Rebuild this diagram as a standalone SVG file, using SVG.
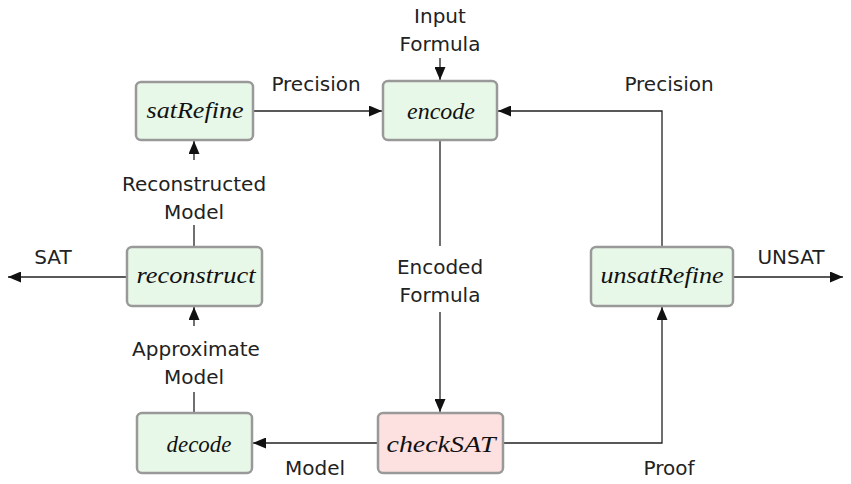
<svg xmlns="http://www.w3.org/2000/svg" width="851" height="484" viewBox="0 0 851 484">
<style>
.box{fill:#e8f8e8;stroke:#999;stroke-width:2.5}
.red{fill:#fde0e0}
.nt{font-family:"Liberation Serif",serif;font-style:italic;font-size:23px;fill:#111;text-anchor:middle}
.lb{font-family:"DejaVu Sans","Liberation Sans",sans-serif;font-size:20px;fill:#222;text-anchor:middle}
.ln{fill:none;stroke:#222;stroke-width:1.3}
</style>
<defs>
<marker id="ah" viewBox="0 0 13 11" refX="13" refY="5.5" markerWidth="13" markerHeight="11" markerUnits="userSpaceOnUse" orient="auto">
<path d="M0,0 L13,5.5 L0,11 Z" fill="#111"/>
</marker>
</defs>
<g id="connectors">
<line class="ln" x1="253" y1="111" x2="382" y2="111" marker-end="url(#ah)"/>
<line class="ln" x1="440" y1="58" x2="440" y2="80" marker-end="url(#ah)"/>
<polyline class="ln" points="662,247 662,111 498,111" marker-end="url(#ah)"/>
<line class="ln" x1="440" y1="140" x2="440" y2="246"/>
<line class="ln" x1="440" y1="312" x2="440" y2="412" marker-end="url(#ah)"/>
<line class="ln" x1="378" y1="443" x2="253" y2="443" marker-end="url(#ah)"/>
<polyline class="ln" points="503,443 662,443 662,307" marker-end="url(#ah)"/>
<line class="ln" x1="194" y1="413" x2="194" y2="392"/>
<line class="ln" x1="194" y1="326" x2="194" y2="307" marker-end="url(#ah)"/>
<line class="ln" x1="194" y1="247" x2="194" y2="225"/>
<line class="ln" x1="194" y1="160" x2="194" y2="141" marker-end="url(#ah)"/>
<line class="ln" x1="127" y1="277" x2="8" y2="277" marker-end="url(#ah)"/>
<line class="ln" x1="733" y1="277" x2="843" y2="277" marker-end="url(#ah)"/>
<text class="lb" x="316" y="91">Precision</text>
<text class="lb" x="440" y="23">Input</text>
<text class="lb" x="440" y="51">Formula</text>
<text class="lb" x="669" y="91">Precision</text>
<text class="lb" x="440" y="274">Encoded</text>
<text class="lb" x="440" y="302">Formula</text>
<text class="lb" x="315" y="475">Model</text>
<text class="lb" x="669" y="475">Proof</text>
<text class="lb" x="196" y="356">Approximate</text>
<text class="lb" x="194" y="384">Model</text>
<text class="lb" x="194" y="191">Reconstructed</text>
<text class="lb" x="194" y="219">Model</text>
<text class="lb" x="53" y="264">SAT</text>
<text class="lb" x="791" y="264">UNSAT</text>
</g>
<g id="satRefine"><rect class="box" x="136" y="82" width="117" height="58" rx="5"/><text class="nt" x="195" y="118" textLength="97" lengthAdjust="spacingAndGlyphs">satRefine</text></g>
<g id="encode"><rect class="box" x="383" y="81" width="114" height="59" rx="5"/><text class="nt" x="441" y="119" textLength="68" lengthAdjust="spacingAndGlyphs">encode</text></g>
<g id="reconstruct"><rect class="box" x="127" y="247" width="135" height="59" rx="5"/><text class="nt" x="196" y="283" textLength="119" lengthAdjust="spacingAndGlyphs">reconstruct</text></g>
<g id="unsatRefine"><rect class="box" x="591" y="247" width="142" height="59" rx="5"/><text class="nt" x="662" y="283" textLength="123" lengthAdjust="spacingAndGlyphs">unsatRefine</text></g>
<g id="decode"><rect class="box" x="137" y="413" width="115" height="60" rx="5"/><text class="nt" x="199" y="452" textLength="65" lengthAdjust="spacingAndGlyphs">decode</text></g>
<g id="checkSAT"><rect class="box red" x="378" y="413" width="125" height="60" rx="5"/><text class="nt" x="441" y="452" textLength="109" lengthAdjust="spacingAndGlyphs">checkSAT</text></g>
</svg>
